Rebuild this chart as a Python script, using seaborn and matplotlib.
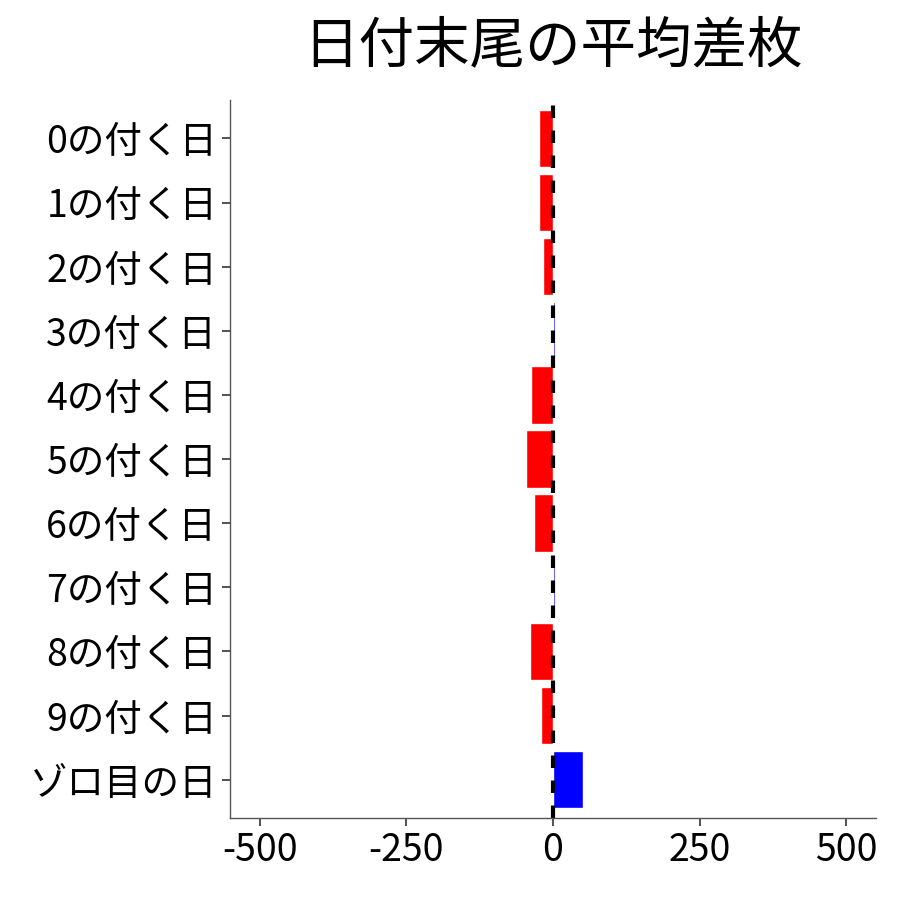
import matplotlib
matplotlib.use("Agg")
import matplotlib.pyplot as plt
import seaborn as sns
import pandas as pd

categories = ["0の付く日", "1の付く日", "2の付く日", "3の付く日", "4の付く日", "5の付く日",
              "6の付く日", "7の付く日", "8の付く日", "9の付く日", "ゾロ目の日"]
values = [-24, -24, -17, 3, -37, -46, -32, 3, -39, -20, 51]

df = pd.DataFrame({"category": categories, "value": values})
df["sign"] = ["plus" if v > 0 else "minus" for v in values]

sns.set_style("ticks")
plt.rcParams["font.family"] = ["Noto Sans CJK JP", "DejaVu Sans"]
plt.rcParams["axes.unicode_minus"] = False

fig, ax = plt.subplots(figsize=(9, 9), dpi=100)
sns.barplot(data=df, x="value", y="category", hue="sign", order=categories,
            palette={"plus": "#0000ff", "minus": "#ff0000"}, width=0.9,
            dodge=False, legend=False, saturation=1, ax=ax)
ax.axvline(0, color="black", linestyle=(0, (3, 3)), linewidth=3)

ax.set_xlim(-550, 550)
ax.set_ylim(len(categories) - 0.4, -0.6)
ax.set_xticks([-500, -250, 0, 250, 500])
ax.set_xlabel("")
ax.set_ylabel("")
ax.set_title("日付末尾の平均差枚", fontsize=40, pad=27, color="black")
ax.tick_params(axis="both", labelsize=27, length=6, width=1.2,
               color="#333333", labelcolor="black")
for s in ["top", "right"]:
    ax.spines[s].set_visible(False)
for s in ["left", "bottom"]:
    ax.spines[s].set_color("#555555")
    ax.spines[s].set_linewidth(1)

plt.subplots_adjust(left=0.256, right=0.973, top=0.889, bottom=0.091)
plt.savefig("out.png", dpi=100)
